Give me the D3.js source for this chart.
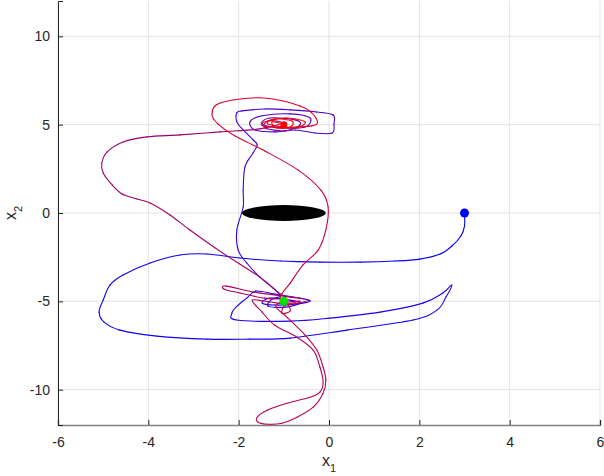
<!DOCTYPE html>
<html>
<head>
<meta charset="utf-8">
<script src="https://cdn.jsdelivr.net/npm/d3@7"></script>
<style>
  body{margin:0;background:#fff;}
  svg text{font-family:"Liberation Sans",Arial,sans-serif;fill:#262626;}
</style>
</head>
<body>
<div id="chart"></div>
<script>
// axis ticks
var xTicks=[-6,-4,-2,0,2,4,6];
var yTicks=[-10,-5,0,5,10];
var xDomain=[-6,6];
var yDomain=[-12,12];

// start, goal and final markers
var startPt=[3,0];
var goalPt=[-1,-5];
var endPt=[-1,5];
// obstacle (ellipse) centre and radii
var obstacle={cx:-1,cy:0,rx:0.93,ry:0.45};

// trajectory, in time order
var trajX=[3.00,3.00,2.92,2.72,2.46,2.01,1.46,0.69,-0.20,-1.08,-1.97,-2.70,-3.30,-3.96,-4.56,-4.85,-5.00,-5.09,-4.98,-4.63,
  -3.81,-2.70,-1.75,-0.86,0.40,1.86,2.39,2.59,2.72,2.52,2.08,1.13,0.02,-0.86,-2.04,-2.15,-2.01,-1.82,-1.62,-1.20,
  -0.64,-0.42,-0.75,-1.20,-1.48,-1.31,-0.86,-0.64,-0.97,-1.35,-1.26,-1.08,
  -1.24,-1.53,-1.82,-2.01,-2.04,-1.90,-1.90,-1.86,-1.68,-1.59,-1.68,-1.90,-2.04,-2.04,-1.93,-1.42,-0.86,-0.27,0.09,0.11,
  0.07,-0.31,-0.75,-1.20,-1.64,-1.75,-1.48,-0.86,-0.42,-0.53,-1.08,-1.48,-1.31,-0.75,-0.64,-0.97,-1.42,-1.35,-1.04,
  -1.53,-2.41,-3.30,-4.03,-4.56,-4.91,-5.03,-5.00,-4.80,-4.58,-4.25,-3.96,-3.52,-3.08,-2.35,-1.53,-1.13,
  -0.97,-1.42,-1.97,-2.32,-2.28,-1.64,-0.86,-0.46,-0.86,-1.31,-1.70,
  -1.48,-1.20,-0.71,-0.35,-0.20,-0.13,-0.20,-0.42,-0.93,-1.37,-1.59,-1.57,-1.35,-1.04,-0.71,-0.35,-0.13,-0.07,-0.13,-0.27,-0.53,-0.91,-1.17,
  -1.08,-0.64,-0.97,-1.04,-0.86,-0.93,-1.08,
  -0.86,-0.58,-0.24,-0.07,-0.02,-0.18,-0.69,-1.42,-2.08,-2.46,-2.59,-2.41,-1.53,-0.64,-0.29,-0.38,
  -1.31,-1.48,-0.97,-0.53,-0.75,-1.35,-1.20,-0.82,-0.86,-1.17,-1.26,-1.00];
var trajY=[0.00,-0.74,-1.30,-1.87,-2.32,-2.61,-2.72,-2.78,-2.78,-2.72,-2.55,-2.32,-2.38,-2.83,-3.51,-4.08,-4.93,-5.61,-6.18,-6.63,
  -6.97,-7.14,-7.14,-7.08,-6.63,-6.06,-5.50,-4.76,-4.08,-4.53,-5.10,-5.61,-5.95,-6.12,-6.06,-5.67,-5.21,-4.82,-4.42,-4.59,
  -4.82,-4.99,-5.16,-5.21,-5.10,-4.82,-4.93,-5.10,-5.33,-5.27,-4.87,-4.70,
  -4.25,-3.63,-2.83,-2.10,-0.96,0.34,1.30,2.61,3.40,3.85,4.14,4.70,5.16,5.67,5.78,5.89,5.84,5.72,5.55,5.04,
  4.53,4.53,4.70,4.59,4.70,5.16,5.50,5.61,5.38,4.87,4.82,5.04,5.38,5.27,4.99,4.65,4.82,5.21,5.10,
  4.76,4.59,4.42,4.31,4.02,3.46,2.83,2.27,1.59,1.08,0.79,0.57,-0.11,-0.96,-2.27,-3.63,-4.48,
  -4.82,-4.82,-4.53,-4.31,-4.14,-4.48,-4.76,-4.93,-5.16,-5.04,-4.93,
  -5.61,-6.35,-7.03,-7.76,-8.73,-9.58,-10.14,-10.43,-10.77,-11.16,-11.56,-11.84,-11.96,-11.90,-11.56,-10.99,-10.20,-9.46,-8.73,-7.76,-6.91,-5.95,-5.33,
  -5.10,-4.99,-5.21,-5.67,-5.55,-5.10,-4.76,
  -3.97,-2.95,-2.10,-0.96,0.34,1.30,2.44,3.51,4.36,5.04,5.61,6.23,6.52,6.06,5.38,4.93,
  4.87,5.10,5.38,5.16,4.82,5.04,5.33,5.21,4.87,4.82,5.16,5.04];

var width=604,height=476;
var margin={top:1,right:4,bottom:51,left:58};

var svg=d3.select("#chart").append("svg")
  .attr("width",width).attr("height",height);

var x=d3.scaleLinear().domain(xDomain).range([margin.left,width-margin.right]);
var y=d3.scaleLinear().domain(yDomain).range([height-margin.bottom,margin.top]);

//======== grid ========
var grid=svg.append("g").attr("class","grid");
grid.selectAll("line.gx").data(xTicks).enter().append("line")
  .attr("x1",function(d){return x(d);}).attr("x2",function(d){return x(d);})
  .attr("y1",y(yDomain[0])).attr("y2",y(yDomain[1]))
  .attr("stroke","#e3e3e3").attr("stroke-width",1);
grid.selectAll("line.gy").data(yTicks).enter().append("line")
  .attr("y1",function(d){return y(d);}).attr("y2",function(d){return y(d);})
  .attr("x1",x(xDomain[0])).attr("x2",x(xDomain[1]))
  .attr("stroke","#e3e3e3").attr("stroke-width",1);

//======== obstacle ========
svg.append("ellipse")
  .attr("cx",x(obstacle.cx)).attr("cy",y(obstacle.cy))
  .attr("rx",x(obstacle.cx+obstacle.rx)-x(obstacle.cx))
  .attr("ry",y(obstacle.cy)-y(obstacle.cy+obstacle.ry))
  .attr("fill","#000");

//======== trajectory, coloured blue -> red along time ========
var pts=trajX.map(function(d,i){return [x(d),y(trajY[i])];});
var col=d3.scaleLinear().domain([0,0.45,0.52,0.85,1])
  .range(["#0000ff","#5000c8","#9a0070","#c8004a","#ff0000"]);
var n=pts.length;
var traj=svg.append("g").attr("class","traj");
for(var i=0;i<n-1;i++){
  var p0=pts[Math.max(i-1,0)],p1=pts[i],p2=pts[i+1],p3=pts[Math.min(i+2,n-1)];
  var c1=[p1[0]+(p2[0]-p0[0])/6,p1[1]+(p2[1]-p0[1])/6];
  var c2=[p2[0]-(p3[0]-p1[0])/6,p2[1]-(p3[1]-p1[1])/6];
  traj.append("path")
    .attr("d","M"+p1+"C"+c1+" "+c2+" "+p2)
    .attr("fill","none")
    .attr("stroke",col((i+0.5)/(n-1)))
    .attr("stroke-width",1.1)
    .attr("stroke-linecap","round");
}

//======== markers ========
svg.append("circle").attr("cx",x(startPt[0])).attr("cy",y(startPt[1])).attr("r",4.5).attr("fill","#0000ff");
svg.append("circle").attr("cx",x(goalPt[0])).attr("cy",y(goalPt[1])).attr("r",4.5).attr("fill","#00e000");
svg.append("circle").attr("cx",x(endPt[0])).attr("cy",y(endPt[1])).attr("r",3.5).attr("fill","#ff0000");

//======== axes ========
var xAxis=d3.axisBottom(x).tickValues(xTicks).tickSize(-5).tickPadding(12);
var yAxis=d3.axisLeft(y).tickValues(yTicks).tickSize(-5).tickPadding(8)
  .tickFormat(function(d){return d<0?"-"+Math.abs(d):d;});

var gx=svg.append("g").attr("transform","translate(0,"+y(yDomain[0])+")").call(xAxis);
gx.select(".domain").attr("stroke","#808080").attr("stroke-width",1.5);
gx.selectAll(".tick line").attr("stroke","#262626");
gx.selectAll(".tick text").style("font-size","14px").attr("fill","#262626")
  .text(function(d){return d<0?"-"+Math.abs(d):d;});

var gy=svg.append("g").attr("transform","translate("+x(xDomain[0])+",0)").call(yAxis);
gy.select(".domain").attr("stroke","#262626").attr("stroke-width",1);
gy.selectAll(".tick line").attr("stroke","#262626");
gy.selectAll(".tick text").style("font-size","14px").attr("fill","#262626");

//======== axis labels ========
var xl=svg.append("text").attr("x",x(0)).attr("y",466)
  .attr("text-anchor","middle").style("font-size","16px");
xl.append("tspan").text("x");
xl.append("tspan").attr("baseline-shift","sub").style("font-size","11px").text("1");

var yl=svg.append("text").attr("transform","translate(16,"+y(0)+") rotate(-90)")
  .attr("text-anchor","middle").style("font-size","16px");
yl.append("tspan").text("x");
yl.append("tspan").attr("baseline-shift","sub").style("font-size","11px").text("2");
</script>
</body>
</html>
